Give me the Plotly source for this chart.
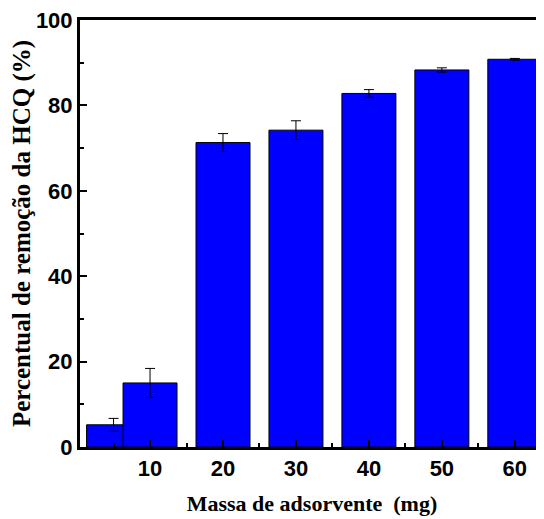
import plotly.graph_objects as go

masses = [5, 10, 20, 30, 40, 50, 60]
removal = [5.2, 15.0, 71.3, 74.2, 82.8, 88.3, 90.8]
errors = [1.5, 3.4, 2.1, 2.2, 0.9, 0.5, 0.2]
x_ticks = [10, 20, 30, 40, 50, 60]
y_ticks = [0, 20, 40, 60, 80, 100]

fig = go.Figure()
for m, r, e in zip(masses, removal, errors):
    fig.add_trace(go.Bar(
        x=[m], y=[r], width=7.4,
        marker=dict(color="#0000FF", line=dict(color="black", width=1)),
        error_y=dict(type="data", array=[e], color="black", thickness=1, width=5),
        showlegend=False,
    ))

fig.update_layout(
    width=536, height=511,
    margin=dict(l=72, r=0, t=12, b=72),
    barmode="overlay",
    plot_bgcolor="white", paper_bgcolor="white",
    xaxis=dict(
        range=[0.4, 64], tickvals=x_ticks, ticktext=[str(v) for v in x_ticks],
        ticks="inside", ticklen=7, tickwidth=2, tickcolor="black",
        minor=dict(tickvals=[5, 15, 25, 35, 45, 55], ticks="inside", ticklen=4, tickwidth=2, tickcolor="black"),
        showline=True, linewidth=3, linecolor="black", mirror=True,
        showgrid=False, zeroline=False, ticklabeloverflow="allow",
        tickfont=dict(family="Liberation Sans", size=22, color="black", weight="bold"),
        title=dict(text="Massa de adsorvente  (mg)", standoff=16,
                   font=dict(family="Liberation Serif", size=22, color="black", weight="bold")),
    ),
    yaxis=dict(
        range=[0, 100], tickvals=y_ticks,
        ticks="inside", ticklen=7, tickwidth=2, tickcolor="black",
        minor=dict(tickvals=[10, 30, 50, 70, 90], ticks="inside", ticklen=4, tickwidth=2, tickcolor="black"),
        showline=True, linewidth=3, linecolor="black", mirror=False,
        showgrid=False, zeroline=False, ticklabeloverflow="allow",
        tickfont=dict(family="Liberation Sans", size=22, color="black", weight="bold"),
        title=dict(text="Percentual de remoção da HCQ (%)", standoff=9,
                   font=dict(family="Liberation Serif", size=25, color="black", weight="bold")),
    ),
)

fig.write_html("out.html")
